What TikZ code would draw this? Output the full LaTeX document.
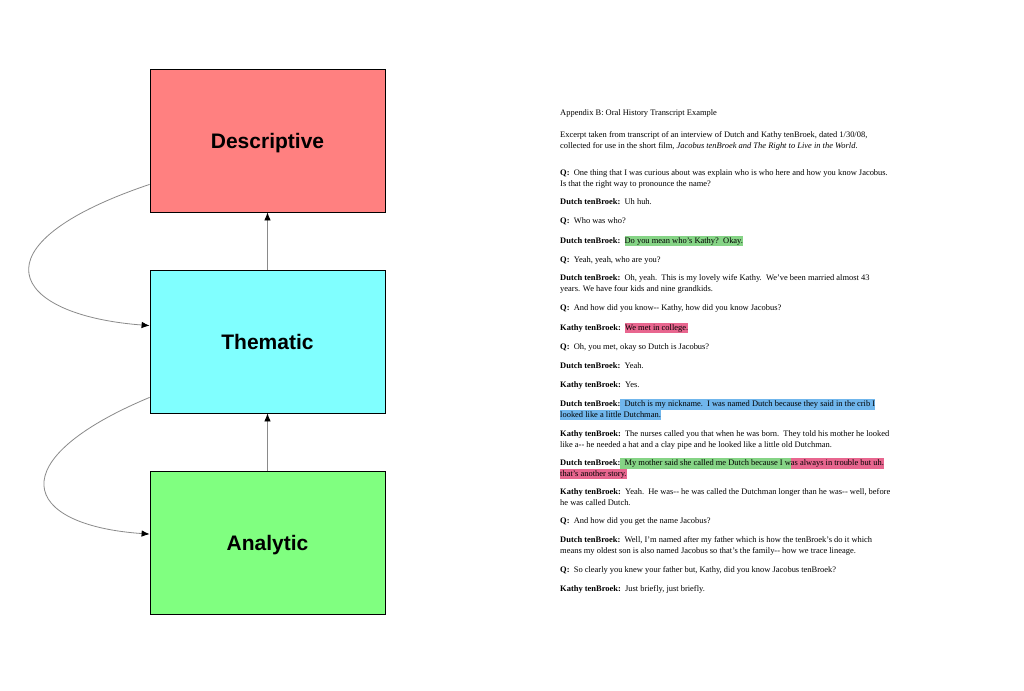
\documentclass[tikz,border=0pt]{standalone}
\usepackage{xcolor}
\usepackage{fontspec}
\setmainfont{Liberation Serif}
\newfontfamily\boxfont{Liberation Sans}
\usepackage{tikz}
\usetikzlibrary{positioning,arrows.meta}
\definecolor{descred}{HTML}{FF8080}
\definecolor{themcyan}{HTML}{80FFFF}
\definecolor{anagreen}{HTML}{80FF80}
\definecolor{hlgreen}{HTML}{86D486}
\definecolor{hlpink}{HTML}{E8668F}
\definecolor{hlblue}{HTML}{70B6EC}
\definecolor{linegray}{HTML}{8A8A8A}
\newcommand{\hl}[2]{{\setlength{\fboxsep}{0pt}\colorbox{#1}{\strut #2}}}
\newcommand{\spk}[1]{\textbf{#1}\ \ }

\begin{document}
\begin{tikzpicture}[x=1pt,y=-1pt,
  level/.style={draw=black,line width=0.8pt,minimum width=235pt,minimum height=143pt,inner sep=0pt,text depth=0pt,font=\boxfont\bfseries\fontsize{21}{25}\selectfont},
  up/.style={draw=linegray,line width=0.8pt,-{Latex[length=8pt,width=6.5pt,black]}},
  para/.style={anchor=base west,inner sep=0pt,align=left,font=\fontsize{8.45}{10.4}\selectfont}]
\useasboundingbox[fill=white] (0,0) rectangle (1024,690);
% the three levels
\node[level,fill=descred] (descriptive) at (267.5,140.5) {Descriptive};
\node[level,fill=themcyan] (thematic) at (267.5,341.5) {Thematic};
\node[level,fill=anagreen] (analytic) at (267.5,543) {Analytic};
\draw[up] (thematic) -- (descriptive);
\draw[up] (analytic) -- (thematic);
\draw[up] ([yshift=28pt]descriptive.south west) .. controls (-30,245) and (10,315) .. ([yshift=-56pt]thematic.north west);
\draw[up] ([yshift=16pt]thematic.south west) .. controls (0,460) and (20,525) .. ([yshift=-63pt]analytic.north west);
% transcript (two-line nodes sit on their last line)
\node[para] (title) at (560,116) {Appendix B: Oral History Transcript Example};
\node[para] (excerpt) at (560,148) {Excerpt taken from transcript of an interview of Dutch and Kathy tenBroek, dated 1/30/08,\\collected for use in the short film, \textit{Jacobus tenBroek and The Right to Live in the World}.};
\node[para] (t1) at (560,186) {\spk{Q:}One thing that I was curious about was explain who is who here and how you know Jacobus.\\Is that the right way to pronounce the name?};
\node[para] (t2) at (560,204) {\spk{Dutch tenBroek:}Uh huh.};
\node[para] (t3) at (560,223) {\spk{Q:}Who was who?};
\node[para] (t4) at (560,243) {\spk{Dutch tenBroek:}\hl{hlgreen}{Do you mean who's Kathy?\ \ Okay.}};
\node[para] (t5) at (560,262) {\spk{Q:}Yeah, yeah, who are you?};
\node[para] (t6) at (560,291) {\spk{Dutch tenBroek:}Oh, yeah.\ \ This is my lovely wife Kathy.\ \ We've been married almost 43\\years. We have four kids and nine grandkids.};
\node[para] (t7) at (560,310) {\spk{Q:}And how did you know-{}- Kathy, how did you know Jacobus?};
\node[para] (t8) at (560,330) {\spk{Kathy tenBroek:}\hl{hlpink}{We met in college.}};
\node[para] (t9) at (560,349) {\spk{Q:}Oh, you met, okay so Dutch is Jacobus?};
\node[para] (t10) at (560,368) {\spk{Dutch tenBroek:}Yeah.};
\node[para] (t11) at (560,387) {\spk{Kathy tenBroek:}Yes.};
\node[para] (t12) at (560,417) {\textbf{Dutch tenBroek:}\hl{hlblue}{\ \ Dutch is my nickname.\ \ I was named Dutch because they said in the crib I}\\\hl{hlblue}{looked like a little Dutchman.}};
\node[para] (t13) at (560,447) {\spk{Kathy tenBroek:}The nurses called you that when he was born.\ \ They told his mother he looked\\like a-{}- he needed a hat and a clay pipe and he looked like a little old Dutchman.};
\node[para] (t14) at (560,476) {\textbf{Dutch tenBroek:}\hl{hlgreen}{\ \ My mother said she called me Dutch because I w}\hl{hlpink}{as always in trouble but uh.}\\\hl{hlpink}{that's another story.}};
\node[para] (t15) at (560,505) {\spk{Kathy tenBroek:}Yeah.\ \ He was-{}- he was called the Dutchman longer than he was-{}- well, before\\he was called Dutch.};
\node[para] (t16) at (560,523) {\spk{Q:}And how did you get the name Jacobus?};
\node[para] (t17) at (560,553) {\spk{Dutch tenBroek:}Well, I'm named after my father which is how the tenBroek's do it which\\means my oldest son is also named Jacobus so that's the family-{}- how we trace lineage.};
\node[para] (t18) at (560,572) {\spk{Q:}So clearly you knew your father but, Kathy, did you know Jacobus tenBroek?};
\node[para] (t19) at (560,591) {\spk{Kathy tenBroek:}Just briefly, just briefly.};
\end{tikzpicture}
\end{document}
